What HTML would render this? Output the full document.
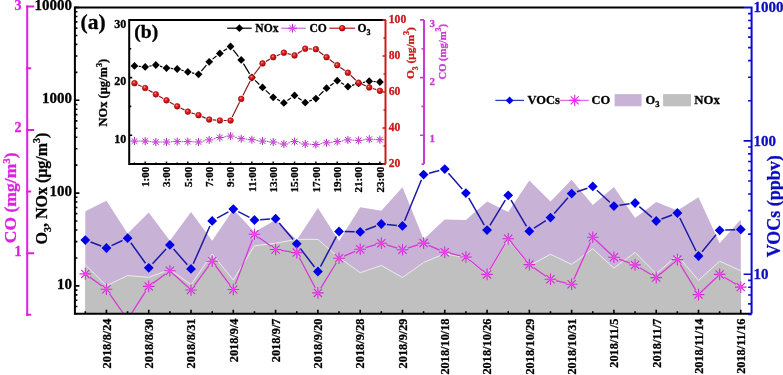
<!DOCTYPE html>
<html><head><meta charset="utf-8"><style>html,body{margin:0;padding:0;background:#fff;width:783px;height:375px;overflow:hidden}svg{display:block;will-change:transform}</style></head><body>
<svg width="783" height="375" viewBox="0 0 783 375">
<rect width="783" height="375" fill="#fff"/>
<defs><radialGradient id="rg" cx="0.4" cy="0.35" r="0.65"><stop offset="0" stop-color="#ff9a9a"/><stop offset="0.35" stop-color="#e82222"/><stop offset="1" stop-color="#b00808"/></radialGradient><clipPath id="mc"><rect x="75" y="7" width="677" height="306.8"/></clipPath></defs>
<polygon points="85.30,313.8 85.30,211.30 106.44,200.70 127.59,233.60 148.74,212.50 169.88,240.80 191.02,212.00 212.17,240.80 233.31,209.60 254.46,232.00 275.61,220.00 296.75,240.00 317.89,208.00 339.04,241.00 360.19,207.20 381.33,210.80 402.48,187.30 423.62,239.20 444.76,219.50 465.91,220.00 487.06,201.60 508.20,212.00 529.35,180.40 550.49,201.50 571.63,179.70 592.78,205.10 613.92,186.90 635.07,218.00 656.21,202.00 677.36,210.50 698.50,197.30 719.65,243.20 740.79,219.40 740.79,313.8" fill="#c8b2d6"/>
<polygon points="85.30,313.8 85.30,264.80 106.44,285.70 127.59,275.60 148.74,277.30 169.88,269.60 191.02,284.70 212.17,254.00 233.31,280.00 254.46,245.80 275.61,243.20 296.75,239.30 317.89,239.40 339.04,257.60 360.19,272.70 381.33,265.50 402.48,277.50 423.62,262.50 444.76,253.60 465.91,258.00 487.06,275.00 508.20,240.00 529.35,265.60 550.49,254.30 571.63,264.40 592.78,248.80 613.92,268.00 635.07,252.40 656.21,273.70 677.36,255.30 698.50,280.40 719.65,261.20 740.79,270.80 740.79,313.8" fill="#c0c0c0"/>
<polyline points="85.30,264.80 106.44,285.70 127.59,275.60 148.74,277.30 169.88,269.60 191.02,284.70 212.17,254.00 233.31,280.00 254.46,245.80 275.61,243.20 296.75,239.30 317.89,239.40 339.04,257.60 360.19,272.70 381.33,265.50 402.48,277.50 423.62,262.50 444.76,253.60 465.91,258.00 487.06,275.00 508.20,240.00 529.35,265.60 550.49,254.30 571.63,264.40 592.78,248.80 613.92,268.00 635.07,252.40 656.21,273.70 677.36,255.30 698.50,280.40 719.65,261.20 740.79,270.80" fill="none" stroke="#ececec" stroke-width="1.0"/>
<g clip-path="url(#mc)">
<path d="M90.55,242.06L101.20,246.04M111.53,245.65L122.51,240.55M130.85,242.76L145.48,263.24M152.53,263.69L166.08,249.01M173.58,249.10L187.32,264.70M193.28,263.78L209.91,226.02M217.06,218.17L228.42,211.83M238.29,211.67L249.48,217.43M260.05,219.66L270.02,219.04M279.21,222.98L293.14,239.52M300.15,248.25L314.50,267.05M320.51,266.55L336.42,236.45M344.64,231.61L354.59,231.79M365.43,229.94L376.08,225.96M386.91,224.50L396.90,225.40M404.61,220.72L421.49,179.78M429.04,173.19L439.35,170.51M448.47,173.30L462.21,188.90M468.69,197.96L484.28,225.24M489.96,225.31L505.29,200.09M511.04,200.13L526.50,226.37M534.05,228.17L545.78,220.63M554.19,213.40L567.93,197.80M576.94,191.79L587.48,188.21M596.88,190.22L609.83,202.28M619.47,205.29L629.53,203.81M639.33,206.63L651.95,217.37M661.45,219.02L672.12,214.98M679.83,218.03L696.03,250.97M702.06,251.68L716.09,234.62M725.24,230.06L735.20,229.64" stroke="#1a1aa8" stroke-width="1.5" fill="none"/>
<polygon points="85.30,235.20 90.20,240.10 85.30,245.00 80.40,240.10" fill="#0000e6"/>
<polygon points="106.44,243.10 111.34,248.00 106.44,252.90 101.54,248.00" fill="#0000e6"/>
<polygon points="127.59,233.30 132.49,238.20 127.59,243.10 122.69,238.20" fill="#0000e6"/>
<polygon points="148.74,262.90 153.64,267.80 148.74,272.70 143.84,267.80" fill="#0000e6"/>
<polygon points="169.88,240.00 174.78,244.90 169.88,249.80 164.98,244.90" fill="#0000e6"/>
<polygon points="191.02,264.00 195.92,268.90 191.02,273.80 186.12,268.90" fill="#0000e6"/>
<polygon points="212.17,216.00 217.07,220.90 212.17,225.80 207.27,220.90" fill="#0000e6"/>
<polygon points="233.31,204.20 238.22,209.10 233.31,214.00 228.41,209.10" fill="#0000e6"/>
<polygon points="254.46,215.10 259.36,220.00 254.46,224.90 249.56,220.00" fill="#0000e6"/>
<polygon points="275.61,213.80 280.50,218.70 275.61,223.60 270.71,218.70" fill="#0000e6"/>
<polygon points="296.75,238.90 301.65,243.80 296.75,248.70 291.85,243.80" fill="#0000e6"/>
<polygon points="317.89,266.60 322.79,271.50 317.89,276.40 313.00,271.50" fill="#0000e6"/>
<polygon points="339.04,226.60 343.94,231.50 339.04,236.40 334.14,231.50" fill="#0000e6"/>
<polygon points="360.19,227.00 365.08,231.90 360.19,236.80 355.29,231.90" fill="#0000e6"/>
<polygon points="381.33,219.10 386.23,224.00 381.33,228.90 376.43,224.00" fill="#0000e6"/>
<polygon points="402.48,221.00 407.38,225.90 402.48,230.80 397.58,225.90" fill="#0000e6"/>
<polygon points="423.62,169.70 428.52,174.60 423.62,179.50 418.72,174.60" fill="#0000e6"/>
<polygon points="444.76,164.20 449.66,169.10 444.76,174.00 439.87,169.10" fill="#0000e6"/>
<polygon points="465.91,188.20 470.81,193.10 465.91,198.00 461.01,193.10" fill="#0000e6"/>
<polygon points="487.06,225.20 491.95,230.10 487.06,235.00 482.16,230.10" fill="#0000e6"/>
<polygon points="508.20,190.40 513.10,195.30 508.20,200.20 503.30,195.30" fill="#0000e6"/>
<polygon points="529.35,226.30 534.25,231.20 529.35,236.10 524.45,231.20" fill="#0000e6"/>
<polygon points="550.49,212.70 555.39,217.60 550.49,222.50 545.59,217.60" fill="#0000e6"/>
<polygon points="571.63,188.70 576.53,193.60 571.63,198.50 566.74,193.60" fill="#0000e6"/>
<polygon points="592.78,181.50 597.68,186.40 592.78,191.30 587.88,186.40" fill="#0000e6"/>
<polygon points="613.92,201.20 618.82,206.10 613.92,211.00 609.02,206.10" fill="#0000e6"/>
<polygon points="635.07,198.10 639.97,203.00 635.07,207.90 630.17,203.00" fill="#0000e6"/>
<polygon points="656.21,216.10 661.11,221.00 656.21,225.90 651.31,221.00" fill="#0000e6"/>
<polygon points="677.36,208.10 682.26,213.00 677.36,217.90 672.46,213.00" fill="#0000e6"/>
<polygon points="698.50,251.10 703.40,256.00 698.50,260.90 693.61,256.00" fill="#0000e6"/>
<polygon points="719.65,225.40 724.55,230.30 719.65,235.20 714.75,230.30" fill="#0000e6"/>
<polygon points="740.79,224.50 745.69,229.40 740.79,234.30 735.89,229.40" fill="#0000e6"/>
<path d="M89.75,277.14L102.00,286.06M109.60,293.81L124.44,314.99M130.55,314.87L145.77,291.03M153.16,283.13L165.45,274.07M173.95,274.50L186.95,286.30M194.28,285.57L208.91,265.63M215.46,265.61L230.02,285.09M235.28,284.36L252.49,239.44M258.93,237.51L271.14,246.29M281.05,250.30L291.31,251.80M299.31,257.47L315.34,288.03M320.76,288.21L336.17,262.99M344.09,256.13L355.13,251.37M365.48,247.70L376.04,244.70M386.59,244.82L397.22,248.08M407.73,248.06L418.37,244.74M428.66,245.29L439.72,250.11M450.13,253.49L460.54,255.81M470.16,260.49L482.81,270.91M489.86,269.67L505.39,243.53M511.69,243.05L525.86,260.35M533.86,267.74L545.97,276.16M555.84,280.57L566.28,283.03M573.89,279.28L590.52,242.32M596.79,241.07L609.92,253.43M619.09,259.08L629.90,263.02M639.78,267.73L651.50,274.77M660.40,274.03L673.17,263.17M680.20,264.31L695.66,289.89M702.48,290.80L715.67,278.20M724.36,277.23L736.08,284.27" stroke="#d838d8" stroke-width="1.3" fill="none"/>
<path d="M79.50,273.90L91.10,273.90M81.20,269.80L89.40,278.00M85.30,268.10L85.30,279.70M89.40,269.80L81.20,278.00" stroke="#d02cd0" stroke-width="1.1" fill="none"/>
<circle cx="85.30" cy="273.90" r="1.8" fill="#ff38ff"/>
<path d="M100.64,289.30L112.24,289.30M102.34,285.20L110.55,293.40M106.44,283.50L106.44,295.10M110.55,285.20L102.34,293.40" stroke="#d02cd0" stroke-width="1.1" fill="none"/>
<circle cx="106.44" cy="289.30" r="1.8" fill="#ff38ff"/>
<path d="M121.79,319.50L133.39,319.50M123.49,315.40L131.69,323.60M127.59,313.70L127.59,325.30M131.69,315.40L123.49,323.60" stroke="#d02cd0" stroke-width="1.1" fill="none"/>
<circle cx="127.59" cy="319.50" r="1.8" fill="#ff38ff"/>
<path d="M142.94,286.40L154.54,286.40M144.63,282.30L152.84,290.50M148.74,280.60L148.74,292.20M152.84,282.30L144.63,290.50" stroke="#d02cd0" stroke-width="1.1" fill="none"/>
<circle cx="148.74" cy="286.40" r="1.8" fill="#ff38ff"/>
<path d="M164.08,270.80L175.68,270.80M165.78,266.70L173.98,274.90M169.88,265.00L169.88,276.60M173.98,266.70L165.78,274.90" stroke="#d02cd0" stroke-width="1.1" fill="none"/>
<circle cx="169.88" cy="270.80" r="1.8" fill="#ff38ff"/>
<path d="M185.22,290.00L196.82,290.00M186.92,285.90L195.13,294.10M191.02,284.20L191.02,295.80M195.13,285.90L186.92,294.10" stroke="#d02cd0" stroke-width="1.1" fill="none"/>
<circle cx="191.02" cy="290.00" r="1.8" fill="#ff38ff"/>
<path d="M206.37,261.20L217.97,261.20M208.07,257.10L216.27,265.30M212.17,255.40L212.17,267.00M216.27,257.10L208.07,265.30" stroke="#d02cd0" stroke-width="1.1" fill="none"/>
<circle cx="212.17" cy="261.20" r="1.8" fill="#ff38ff"/>
<path d="M227.51,289.50L239.12,289.50M229.21,285.40L237.42,293.60M233.31,283.70L233.31,295.30M237.42,285.40L229.21,293.60" stroke="#d02cd0" stroke-width="1.1" fill="none"/>
<circle cx="233.31" cy="289.50" r="1.8" fill="#ff38ff"/>
<path d="M248.66,234.30L260.26,234.30M250.36,230.20L258.56,238.40M254.46,228.50L254.46,240.10M258.56,230.20L250.36,238.40" stroke="#d02cd0" stroke-width="1.1" fill="none"/>
<circle cx="254.46" cy="234.30" r="1.8" fill="#ff38ff"/>
<path d="M269.81,249.50L281.41,249.50M271.50,245.40L279.71,253.60M275.61,243.70L275.61,255.30M279.71,245.40L271.50,253.60" stroke="#d02cd0" stroke-width="1.1" fill="none"/>
<circle cx="275.61" cy="249.50" r="1.8" fill="#ff38ff"/>
<path d="M290.95,252.60L302.55,252.60M292.65,248.50L300.85,256.70M296.75,246.80L296.75,258.40M300.85,248.50L292.65,256.70" stroke="#d02cd0" stroke-width="1.1" fill="none"/>
<circle cx="296.75" cy="252.60" r="1.8" fill="#ff38ff"/>
<path d="M312.09,292.90L323.69,292.90M313.79,288.80L322.00,297.00M317.89,287.10L317.89,298.70M322.00,288.80L313.79,297.00" stroke="#d02cd0" stroke-width="1.1" fill="none"/>
<circle cx="317.89" cy="292.90" r="1.8" fill="#ff38ff"/>
<path d="M333.24,258.30L344.84,258.30M334.94,254.20L343.14,262.40M339.04,252.50L339.04,264.10M343.14,254.20L334.94,262.40" stroke="#d02cd0" stroke-width="1.1" fill="none"/>
<circle cx="339.04" cy="258.30" r="1.8" fill="#ff38ff"/>
<path d="M354.38,249.20L365.99,249.20M356.08,245.10L364.29,253.30M360.19,243.40L360.19,255.00M364.29,245.10L356.08,253.30" stroke="#d02cd0" stroke-width="1.1" fill="none"/>
<circle cx="360.19" cy="249.20" r="1.8" fill="#ff38ff"/>
<path d="M375.53,243.20L387.13,243.20M377.23,239.10L385.43,247.30M381.33,237.40L381.33,249.00M385.43,239.10L377.23,247.30" stroke="#d02cd0" stroke-width="1.1" fill="none"/>
<circle cx="381.33" cy="243.20" r="1.8" fill="#ff38ff"/>
<path d="M396.68,249.70L408.28,249.70M398.37,245.60L406.58,253.80M402.48,243.90L402.48,255.50M406.58,245.60L398.37,253.80" stroke="#d02cd0" stroke-width="1.1" fill="none"/>
<circle cx="402.48" cy="249.70" r="1.8" fill="#ff38ff"/>
<path d="M417.82,243.10L429.42,243.10M419.52,239.00L427.72,247.20M423.62,237.30L423.62,248.90M427.72,239.00L419.52,247.20" stroke="#d02cd0" stroke-width="1.1" fill="none"/>
<circle cx="423.62" cy="243.10" r="1.8" fill="#ff38ff"/>
<path d="M438.96,252.30L450.56,252.30M440.66,248.20L448.87,256.40M444.76,246.50L444.76,258.10M448.87,248.20L440.66,256.40" stroke="#d02cd0" stroke-width="1.1" fill="none"/>
<circle cx="444.76" cy="252.30" r="1.8" fill="#ff38ff"/>
<path d="M460.11,257.00L471.71,257.00M461.81,252.90L470.01,261.10M465.91,251.20L465.91,262.80M470.01,252.90L461.81,261.10" stroke="#d02cd0" stroke-width="1.1" fill="none"/>
<circle cx="465.91" cy="257.00" r="1.8" fill="#ff38ff"/>
<path d="M481.25,274.40L492.86,274.40M482.95,270.30L491.16,278.50M487.06,268.60L487.06,280.20M491.16,270.30L482.95,278.50" stroke="#d02cd0" stroke-width="1.1" fill="none"/>
<circle cx="487.06" cy="274.40" r="1.8" fill="#ff38ff"/>
<path d="M502.40,238.80L514.00,238.80M504.10,234.70L512.30,242.90M508.20,233.00L508.20,244.60M512.30,234.70L504.10,242.90" stroke="#d02cd0" stroke-width="1.1" fill="none"/>
<circle cx="508.20" cy="238.80" r="1.8" fill="#ff38ff"/>
<path d="M523.55,264.60L535.14,264.60M525.24,260.50L533.45,268.70M529.35,258.80L529.35,270.40M533.45,260.50L525.24,268.70" stroke="#d02cd0" stroke-width="1.1" fill="none"/>
<circle cx="529.35" cy="264.60" r="1.8" fill="#ff38ff"/>
<path d="M544.69,279.30L556.29,279.30M546.39,275.20L554.59,283.40M550.49,273.50L550.49,285.10M554.59,275.20L546.39,283.40" stroke="#d02cd0" stroke-width="1.1" fill="none"/>
<circle cx="550.49" cy="279.30" r="1.8" fill="#ff38ff"/>
<path d="M565.84,284.30L577.43,284.30M567.53,280.20L575.74,288.40M571.63,278.50L571.63,290.10M575.74,280.20L567.53,288.40" stroke="#d02cd0" stroke-width="1.1" fill="none"/>
<circle cx="571.63" cy="284.30" r="1.8" fill="#ff38ff"/>
<path d="M586.98,237.30L598.58,237.30M588.68,233.20L596.88,241.40M592.78,231.50L592.78,243.10M596.88,233.20L588.68,241.40" stroke="#d02cd0" stroke-width="1.1" fill="none"/>
<circle cx="592.78" cy="237.30" r="1.8" fill="#ff38ff"/>
<path d="M608.12,257.20L619.72,257.20M609.82,253.10L618.03,261.30M613.92,251.40L613.92,263.00M618.03,253.10L609.82,261.30" stroke="#d02cd0" stroke-width="1.1" fill="none"/>
<circle cx="613.92" cy="257.20" r="1.8" fill="#ff38ff"/>
<path d="M629.27,264.90L640.87,264.90M630.97,260.80L639.17,269.00M635.07,259.10L635.07,270.70M639.17,260.80L630.97,269.00" stroke="#d02cd0" stroke-width="1.1" fill="none"/>
<circle cx="635.07" cy="264.90" r="1.8" fill="#ff38ff"/>
<path d="M650.41,277.60L662.01,277.60M652.11,273.50L660.32,281.70M656.21,271.80L656.21,283.40M660.32,273.50L652.11,281.70" stroke="#d02cd0" stroke-width="1.1" fill="none"/>
<circle cx="656.21" cy="277.60" r="1.8" fill="#ff38ff"/>
<path d="M671.56,259.60L683.16,259.60M673.26,255.50L681.46,263.70M677.36,253.80L677.36,265.40M681.46,255.50L673.26,263.70" stroke="#d02cd0" stroke-width="1.1" fill="none"/>
<circle cx="677.36" cy="259.60" r="1.8" fill="#ff38ff"/>
<path d="M692.71,294.60L704.30,294.60M694.40,290.50L702.61,298.70M698.50,288.80L698.50,300.40M702.61,290.50L694.40,298.70" stroke="#d02cd0" stroke-width="1.1" fill="none"/>
<circle cx="698.50" cy="294.60" r="1.8" fill="#ff38ff"/>
<path d="M713.85,274.40L725.45,274.40M715.55,270.30L723.75,278.50M719.65,268.60L719.65,280.20M723.75,270.30L715.55,278.50" stroke="#d02cd0" stroke-width="1.1" fill="none"/>
<circle cx="719.65" cy="274.40" r="1.8" fill="#ff38ff"/>
<path d="M735.00,287.10L746.59,287.10M736.69,283.00L744.90,291.20M740.79,281.30L740.79,292.90M744.90,283.00L736.69,291.20" stroke="#d02cd0" stroke-width="1.1" fill="none"/>
<circle cx="740.79" cy="287.10" r="1.8" fill="#ff38ff"/>
</g>
<path d="M74.9,7.5H744V7.5" stroke="#000" stroke-width="2" fill="none"/>
<path d="M74.9,6.5V313.8H751.6" stroke="#000" stroke-width="2" fill="none"/>
<path d="M74.9,313.80h2.5M74.9,306.45h2.5M74.9,300.24h2.5M74.9,294.86h2.5M74.9,290.11h2.5M74.9,285.87h4.5M74.9,257.94h2.5M74.9,241.60h2.5M74.9,230.00h2.5M74.9,221.01h2.5M74.9,213.66h2.5M74.9,207.45h2.5M74.9,202.07h2.5M74.9,197.32h2.5M74.9,193.08h4.5M74.9,165.15h2.5M74.9,148.81h2.5M74.9,137.21h2.5M74.9,128.22h2.5M74.9,120.87h2.5M74.9,114.66h2.5M74.9,109.28h2.5M74.9,104.54h2.5M74.9,100.29h4.5M74.9,72.36h2.5M74.9,56.02h2.5M74.9,44.42h2.5M74.9,35.43h2.5M74.9,28.09h2.5M74.9,21.87h2.5M74.9,16.49h2.5M74.9,11.75h2.5M74.9,7.50h4.5" stroke="#000" stroke-width="1.6" fill="none"/>
<text x="72" y="10.40" font-family="Liberation Serif" font-weight="bold" font-size="15" text-anchor="end" fill="#000" stroke="#000" stroke-width="0.3">10000</text>
<text x="72" y="103.49" font-family="Liberation Serif" font-weight="bold" font-size="15" text-anchor="end" fill="#000" stroke="#000" stroke-width="0.3">1000</text>
<text x="72" y="196.28" font-family="Liberation Serif" font-weight="bold" font-size="15" text-anchor="end" fill="#000" stroke="#000" stroke-width="0.3">100</text>
<text x="72" y="289.07" font-family="Liberation Serif" font-weight="bold" font-size="15" text-anchor="end" fill="#000" stroke="#000" stroke-width="0.3">10</text>
<path d="M744,7.5H751.6V313.8" stroke="#0a0ad2" stroke-width="2" fill="none"/>
<path d="M751.6,314.46h-3.5M751.6,303.89h-3.5M751.6,294.96h-3.5M751.6,287.23h-3.5M751.6,280.40h-3.5M751.6,274.30h-8M751.6,234.14h-3.5M751.6,210.65h-3.5M751.6,193.99h-3.5M751.6,181.06h-3.5M751.6,170.49h-3.5M751.6,161.56h-3.5M751.6,153.83h-3.5M751.6,147.00h-3.5M751.6,140.90h-8M751.6,100.74h-3.5M751.6,77.25h-3.5M751.6,60.59h-3.5M751.6,47.66h-3.5M751.6,37.09h-3.5M751.6,28.16h-3.5M751.6,20.43h-3.5M751.6,13.60h-3.5" stroke="#0a0ad2" stroke-width="1.6" fill="none"/>
<text x="753.5" y="12.10" font-family="Liberation Serif" font-weight="bold" font-size="15" fill="#0c0cc0" stroke="#0c0cc0" stroke-width="0.3">1000</text>
<text x="753.5" y="145.50" font-family="Liberation Serif" font-weight="bold" font-size="15" fill="#0c0cc0" stroke="#0c0cc0" stroke-width="0.3">100</text>
<text x="753.5" y="278.90" font-family="Liberation Serif" font-weight="bold" font-size="15" fill="#0c0cc0" stroke="#0c0cc0" stroke-width="0.3">10</text>
<text transform="translate(780,257.3) rotate(-90)" font-family="Liberation Serif" font-weight="bold" font-size="18" fill="#0c0cc0" stroke="#0c0cc0" stroke-width="0.3">VOCs (ppbv)</text>
<path d="M85.30,313.8v-2.5M106.44,313.8v-4M127.59,313.8v-2.5M148.74,313.8v-4M169.88,313.8v-2.5M191.02,313.8v-4M212.17,313.8v-2.5M233.31,313.8v-4M254.46,313.8v-2.5M275.61,313.8v-4M296.75,313.8v-2.5M317.89,313.8v-4M339.04,313.8v-2.5M360.19,313.8v-4M381.33,313.8v-2.5M402.48,313.8v-4M423.62,313.8v-2.5M444.76,313.8v-4M465.91,313.8v-2.5M487.06,313.8v-4M508.20,313.8v-2.5M529.35,313.8v-4M550.49,313.8v-2.5M571.63,313.8v-4M592.78,313.8v-2.5M613.92,313.8v-4M635.07,313.8v-2.5M656.21,313.8v-4M677.36,313.8v-2.5M698.50,313.8v-4M719.65,313.8v-2.5M740.79,313.8v-4" stroke="#000" stroke-width="1.6" fill="none"/>
<text transform="translate(110.74,318.5) rotate(-90)" font-family="Liberation Serif" font-weight="bold" font-size="12.3" text-anchor="end" fill="#000" stroke="#000" stroke-width="0.3">2018/8/24</text>
<text transform="translate(153.04,318.5) rotate(-90)" font-family="Liberation Serif" font-weight="bold" font-size="12.3" text-anchor="end" fill="#000" stroke="#000" stroke-width="0.3">2018/8/30</text>
<text transform="translate(195.32,318.5) rotate(-90)" font-family="Liberation Serif" font-weight="bold" font-size="12.3" text-anchor="end" fill="#000" stroke="#000" stroke-width="0.3">2018/8/31</text>
<text transform="translate(237.62,318.5) rotate(-90)" font-family="Liberation Serif" font-weight="bold" font-size="12.3" text-anchor="end" fill="#000" stroke="#000" stroke-width="0.3">2018/9/4</text>
<text transform="translate(279.91,318.5) rotate(-90)" font-family="Liberation Serif" font-weight="bold" font-size="12.3" text-anchor="end" fill="#000" stroke="#000" stroke-width="0.3">2018/9/7</text>
<text transform="translate(322.19,318.5) rotate(-90)" font-family="Liberation Serif" font-weight="bold" font-size="12.3" text-anchor="end" fill="#000" stroke="#000" stroke-width="0.3">2018/9/20</text>
<text transform="translate(364.49,318.5) rotate(-90)" font-family="Liberation Serif" font-weight="bold" font-size="12.3" text-anchor="end" fill="#000" stroke="#000" stroke-width="0.3">2018/9/28</text>
<text transform="translate(406.78,318.5) rotate(-90)" font-family="Liberation Serif" font-weight="bold" font-size="12.3" text-anchor="end" fill="#000" stroke="#000" stroke-width="0.3">2018/9/29</text>
<text transform="translate(449.06,318.5) rotate(-90)" font-family="Liberation Serif" font-weight="bold" font-size="12.3" text-anchor="end" fill="#000" stroke="#000" stroke-width="0.3">2018/10/18</text>
<text transform="translate(491.36,318.5) rotate(-90)" font-family="Liberation Serif" font-weight="bold" font-size="12.3" text-anchor="end" fill="#000" stroke="#000" stroke-width="0.3">2018/10/26</text>
<text transform="translate(533.64,318.5) rotate(-90)" font-family="Liberation Serif" font-weight="bold" font-size="12.3" text-anchor="end" fill="#000" stroke="#000" stroke-width="0.3">2018/10/29</text>
<text transform="translate(575.93,318.5) rotate(-90)" font-family="Liberation Serif" font-weight="bold" font-size="12.3" text-anchor="end" fill="#000" stroke="#000" stroke-width="0.3">2018/10/31</text>
<text transform="translate(618.22,318.5) rotate(-90)" font-family="Liberation Serif" font-weight="bold" font-size="12.3" text-anchor="end" fill="#000" stroke="#000" stroke-width="0.3">2018/11/5</text>
<text transform="translate(660.51,318.5) rotate(-90)" font-family="Liberation Serif" font-weight="bold" font-size="12.3" text-anchor="end" fill="#000" stroke="#000" stroke-width="0.3">2018/11/7</text>
<text transform="translate(702.80,318.5) rotate(-90)" font-family="Liberation Serif" font-weight="bold" font-size="12.3" text-anchor="end" fill="#000" stroke="#000" stroke-width="0.3">2018/11/14</text>
<text transform="translate(745.09,318.5) rotate(-90)" font-family="Liberation Serif" font-weight="bold" font-size="12.3" text-anchor="end" fill="#000" stroke="#000" stroke-width="0.3">2018/11/16</text>
<path d="M27.2,5.60V315.85" stroke="#e020e0" stroke-width="2" fill="none"/>
<path d="M26.2,6.60h8M26.2,68.25h5M26.2,129.90h8M26.2,191.55h5M26.2,253.20h8M26.2,314.85h5" stroke="#e020e0" stroke-width="2" fill="none"/>
<text x="18" y="9.80" font-family="Liberation Serif" font-weight="bold" font-size="14" text-anchor="middle" fill="#e020e0" stroke="#e020e0" stroke-width="0.3">3</text>
<text x="18" y="132.20" font-family="Liberation Serif" font-weight="bold" font-size="14" text-anchor="middle" fill="#e020e0" stroke="#e020e0" stroke-width="0.3">2</text>
<text x="18" y="255.50" font-family="Liberation Serif" font-weight="bold" font-size="14" text-anchor="middle" fill="#e020e0" stroke="#e020e0" stroke-width="0.3">1</text>
<text transform="translate(16.4,243.3) rotate(-90)" font-family="Liberation Serif" font-weight="bold" font-size="17.6" fill="#e020e0" stroke="#e020e0" stroke-width="0.3">CO (mg/m<tspan dy="-6.5" font-size="11">3</tspan><tspan dy="6.5">)</tspan></text>
<text transform="translate(46.8,244.5) rotate(-90)" font-family="Liberation Serif" font-weight="bold" font-size="16" fill="#000" stroke="#000" stroke-width="0.3">O<tspan dy="4" font-size="10">3</tspan><tspan dy="-4">, NOx (μg/m</tspan><tspan dy="-6.5" font-size="10">3</tspan><tspan dy="6.5">)</tspan></text>
<text x="80.6" y="29.2" font-family="Liberation Serif" font-weight="bold" font-size="21.5" fill="#000" stroke="#000" stroke-width="0.3">(a)</text>
<path d="M495.3,100.4H524" stroke="#3040b0" stroke-width="1.3"/>
<polygon points="509.6,96.5 513.5,100.4 509.6,104.30000000000001 505.70000000000005,100.4" fill="#0000e6"/>
<text x="527.5" y="104.3" font-family="Liberation Serif" font-weight="bold" font-size="12.5" fill="#000" stroke="#000" stroke-width="0.3">VOCs</text>
<path d="M559.7,100.4H588.8" stroke="#e070e0" stroke-width="1.3"/>
<path d="M569.10,100.40L580.30,100.40M570.74,96.44L578.66,104.36M574.70,94.80L574.70,106.00M578.66,96.44L570.74,104.36" stroke="#e62ee6" stroke-width="1.2" fill="none"/>
<text x="591.5" y="104.3" font-family="Liberation Serif" font-weight="bold" font-size="12.5" fill="#000" stroke="#000" stroke-width="0.3">CO</text>
<rect x="614.6" y="94.1" width="27" height="12.2" fill="#c8b2d6"/>
<text x="645.5" y="104.3" font-family="Liberation Serif" font-weight="bold" font-size="12.5" fill="#000" stroke="#000" stroke-width="0.3">O<tspan dy="3" font-size="8.5">3</tspan></text>
<rect x="663.1" y="94.1" width="27.9" height="12.2" fill="#c0c0c0"/>
<text x="694.3" y="104.3" font-family="Liberation Serif" font-weight="bold" font-size="12.8" fill="#000" stroke="#000" stroke-width="0.3">NOx</text>
<path d="M139.00,141.10L140.67,141.10M149.65,141.48L151.36,141.62M160.34,142.00L162.01,142.00M171.01,141.83L172.68,141.77M181.68,141.60L183.35,141.60M192.35,141.77L194.02,141.83M202.94,141.13L204.77,140.77M213.58,138.91L215.47,138.49M224.32,136.91L226.07,136.69M234.90,137.17L236.83,137.63M245.68,139.12L247.39,139.28M256.33,140.29L258.08,140.51M267.02,141.48L268.73,141.62M277.63,142.83L279.46,143.17M288.27,143.01L290.16,142.59M298.94,142.59L300.83,143.01M309.72,144.21L311.39,144.29M320.33,143.79L322.12,143.51M331.03,142.30L332.76,142.10M341.67,140.89L343.46,140.61M352.40,140.11L354.07,140.19M363.04,139.90L364.77,139.70M373.74,139.41L375.41,139.49" stroke="#b050c0" stroke-width="1.0" fill="none"/>
<path d="M130.50,141.10L138.50,141.10M131.67,138.27L137.33,143.93M134.50,137.10L134.50,145.10M137.33,138.27L131.67,143.93" stroke="#a830b4" stroke-width="1.0" fill="none"/>
<circle cx="134.50" cy="141.10" r="1.5" fill="#d848e0"/>
<path d="M141.17,141.10L149.17,141.10M142.34,138.27L148.00,143.93M145.17,137.10L145.17,145.10M148.00,138.27L142.34,143.93" stroke="#a830b4" stroke-width="1.0" fill="none"/>
<circle cx="145.17" cy="141.10" r="1.5" fill="#d848e0"/>
<path d="M151.84,142.00L159.84,142.00M153.01,139.17L158.67,144.83M155.84,138.00L155.84,146.00M158.67,139.17L153.01,144.83" stroke="#a830b4" stroke-width="1.0" fill="none"/>
<circle cx="155.84" cy="142.00" r="1.5" fill="#d848e0"/>
<path d="M162.51,142.00L170.51,142.00M163.68,139.17L169.34,144.83M166.51,138.00L166.51,146.00M169.34,139.17L163.68,144.83" stroke="#a830b4" stroke-width="1.0" fill="none"/>
<circle cx="166.51" cy="142.00" r="1.5" fill="#d848e0"/>
<path d="M173.18,141.60L181.18,141.60M174.35,138.77L180.01,144.43M177.18,137.60L177.18,145.60M180.01,138.77L174.35,144.43" stroke="#a830b4" stroke-width="1.0" fill="none"/>
<circle cx="177.18" cy="141.60" r="1.5" fill="#d848e0"/>
<path d="M183.85,141.60L191.85,141.60M185.02,138.77L190.68,144.43M187.85,137.60L187.85,145.60M190.68,138.77L185.02,144.43" stroke="#a830b4" stroke-width="1.0" fill="none"/>
<circle cx="187.85" cy="141.60" r="1.5" fill="#d848e0"/>
<path d="M194.52,142.00L202.52,142.00M195.69,139.17L201.35,144.83M198.52,138.00L198.52,146.00M201.35,139.17L195.69,144.83" stroke="#a830b4" stroke-width="1.0" fill="none"/>
<circle cx="198.52" cy="142.00" r="1.5" fill="#d848e0"/>
<path d="M205.19,139.90L213.19,139.90M206.36,137.07L212.02,142.73M209.19,135.90L209.19,143.90M212.02,137.07L206.36,142.73" stroke="#a830b4" stroke-width="1.0" fill="none"/>
<circle cx="209.19" cy="139.90" r="1.5" fill="#d848e0"/>
<path d="M215.86,137.50L223.86,137.50M217.03,134.67L222.69,140.33M219.86,133.50L219.86,141.50M222.69,134.67L217.03,140.33" stroke="#a830b4" stroke-width="1.0" fill="none"/>
<circle cx="219.86" cy="137.50" r="1.5" fill="#d848e0"/>
<path d="M226.53,136.10L234.53,136.10M227.70,133.27L233.36,138.93M230.53,132.10L230.53,140.10M233.36,133.27L227.70,138.93" stroke="#a830b4" stroke-width="1.0" fill="none"/>
<circle cx="230.53" cy="136.10" r="1.5" fill="#d848e0"/>
<path d="M237.20,138.70L245.20,138.70M238.37,135.87L244.03,141.53M241.20,134.70L241.20,142.70M244.03,135.87L238.37,141.53" stroke="#a830b4" stroke-width="1.0" fill="none"/>
<circle cx="241.20" cy="138.70" r="1.5" fill="#d848e0"/>
<path d="M247.87,139.70L255.87,139.70M249.04,136.87L254.70,142.53M251.87,135.70L251.87,143.70M254.70,136.87L249.04,142.53" stroke="#a830b4" stroke-width="1.0" fill="none"/>
<circle cx="251.87" cy="139.70" r="1.5" fill="#d848e0"/>
<path d="M258.54,141.10L266.54,141.10M259.71,138.27L265.37,143.93M262.54,137.10L262.54,145.10M265.37,138.27L259.71,143.93" stroke="#a830b4" stroke-width="1.0" fill="none"/>
<circle cx="262.54" cy="141.10" r="1.5" fill="#d848e0"/>
<path d="M269.21,142.00L277.21,142.00M270.38,139.17L276.04,144.83M273.21,138.00L273.21,146.00M276.04,139.17L270.38,144.83" stroke="#a830b4" stroke-width="1.0" fill="none"/>
<circle cx="273.21" cy="142.00" r="1.5" fill="#d848e0"/>
<path d="M279.88,144.00L287.88,144.00M281.05,141.17L286.71,146.83M283.88,140.00L283.88,148.00M286.71,141.17L281.05,146.83" stroke="#a830b4" stroke-width="1.0" fill="none"/>
<circle cx="283.88" cy="144.00" r="1.5" fill="#d848e0"/>
<path d="M290.55,141.60L298.55,141.60M291.72,138.77L297.38,144.43M294.55,137.60L294.55,145.60M297.38,138.77L291.72,144.43" stroke="#a830b4" stroke-width="1.0" fill="none"/>
<circle cx="294.55" cy="141.60" r="1.5" fill="#d848e0"/>
<path d="M301.22,144.00L309.22,144.00M302.39,141.17L308.05,146.83M305.22,140.00L305.22,148.00M308.05,141.17L302.39,146.83" stroke="#a830b4" stroke-width="1.0" fill="none"/>
<circle cx="305.22" cy="144.00" r="1.5" fill="#d848e0"/>
<path d="M311.89,144.50L319.89,144.50M313.06,141.67L318.72,147.33M315.89,140.50L315.89,148.50M318.72,141.67L313.06,147.33" stroke="#a830b4" stroke-width="1.0" fill="none"/>
<circle cx="315.89" cy="144.50" r="1.5" fill="#d848e0"/>
<path d="M322.56,142.80L330.56,142.80M323.73,139.97L329.39,145.63M326.56,138.80L326.56,146.80M329.39,139.97L323.73,145.63" stroke="#a830b4" stroke-width="1.0" fill="none"/>
<circle cx="326.56" cy="142.80" r="1.5" fill="#d848e0"/>
<path d="M333.23,141.60L341.23,141.60M334.40,138.77L340.06,144.43M337.23,137.60L337.23,145.60M340.06,138.77L334.40,144.43" stroke="#a830b4" stroke-width="1.0" fill="none"/>
<circle cx="337.23" cy="141.60" r="1.5" fill="#d848e0"/>
<path d="M343.90,139.90L351.90,139.90M345.07,137.07L350.73,142.73M347.90,135.90L347.90,143.90M350.73,137.07L345.07,142.73" stroke="#a830b4" stroke-width="1.0" fill="none"/>
<circle cx="347.90" cy="139.90" r="1.5" fill="#d848e0"/>
<path d="M354.57,140.40L362.57,140.40M355.74,137.57L361.40,143.23M358.57,136.40L358.57,144.40M361.40,137.57L355.74,143.23" stroke="#a830b4" stroke-width="1.0" fill="none"/>
<circle cx="358.57" cy="140.40" r="1.5" fill="#d848e0"/>
<path d="M365.24,139.20L373.24,139.20M366.41,136.37L372.07,142.03M369.24,135.20L369.24,143.20M372.07,136.37L366.41,142.03" stroke="#a830b4" stroke-width="1.0" fill="none"/>
<circle cx="369.24" cy="139.20" r="1.5" fill="#d848e0"/>
<path d="M375.91,139.70L383.91,139.70M377.08,136.87L382.74,142.53M379.91,135.70L379.91,143.70M382.74,136.87L377.08,142.53" stroke="#a830b4" stroke-width="1.0" fill="none"/>
<circle cx="379.91" cy="139.70" r="1.5" fill="#d848e0"/>
<path d="M138.78,66.30L140.89,66.50M149.40,66.15L151.61,65.75M159.97,66.20L162.38,66.90M170.79,68.46L172.90,68.64M181.33,70.13L183.70,70.77M192.05,72.84L194.32,73.36M201.31,71.03L206.40,65.07M212.57,59.14L216.48,56.06M223.47,51.07L226.92,48.83M233.21,49.86L238.52,56.54M243.43,63.58L249.64,73.82M255.02,80.42L259.39,84.48M265.69,90.32L270.06,94.38M277.02,99.30L280.07,100.90M287.40,100.43L291.03,97.87M298.11,97.81L301.66,100.19M309.25,101.09L311.86,100.11M318.97,95.60L323.48,91.20M330.08,85.73L333.71,83.17M340.99,82.78L344.14,84.52M352.02,85.36L354.45,84.64M362.78,82.53L365.03,82.07M373.53,81.52L375.62,81.68" stroke="#000" stroke-width="1.2" fill="none"/>
<polygon points="134.50,62.00 138.40,65.90 134.50,69.80 130.60,65.90" fill="#000"/>
<polygon points="145.17,63.00 149.07,66.90 145.17,70.80 141.27,66.90" fill="#000"/>
<polygon points="155.84,61.10 159.74,65.00 155.84,68.90 151.94,65.00" fill="#000"/>
<polygon points="166.51,64.20 170.41,68.10 166.51,72.00 162.61,68.10" fill="#000"/>
<polygon points="177.18,65.10 181.08,69.00 177.18,72.90 173.28,69.00" fill="#000"/>
<polygon points="187.85,68.00 191.75,71.90 187.85,75.80 183.95,71.90" fill="#000"/>
<polygon points="198.52,70.40 202.42,74.30 198.52,78.20 194.62,74.30" fill="#000"/>
<polygon points="209.19,57.90 213.09,61.80 209.19,65.70 205.29,61.80" fill="#000"/>
<polygon points="219.86,49.50 223.76,53.40 219.86,57.30 215.96,53.40" fill="#000"/>
<polygon points="230.53,42.60 234.43,46.50 230.53,50.40 226.63,46.50" fill="#000"/>
<polygon points="241.20,56.00 245.10,59.90 241.20,63.80 237.30,59.90" fill="#000"/>
<polygon points="251.87,73.60 255.77,77.50 251.87,81.40 247.97,77.50" fill="#000"/>
<polygon points="262.54,83.50 266.44,87.40 262.54,91.30 258.64,87.40" fill="#000"/>
<polygon points="273.21,93.40 277.11,97.30 273.21,101.20 269.31,97.30" fill="#000"/>
<polygon points="283.88,99.00 287.78,102.90 283.88,106.80 279.98,102.90" fill="#000"/>
<polygon points="294.55,91.50 298.45,95.40 294.55,99.30 290.65,95.40" fill="#000"/>
<polygon points="305.22,98.70 309.12,102.60 305.22,106.50 301.32,102.60" fill="#000"/>
<polygon points="315.89,94.70 319.79,98.60 315.89,102.50 311.99,98.60" fill="#000"/>
<polygon points="326.56,84.30 330.46,88.20 326.56,92.10 322.66,88.20" fill="#000"/>
<polygon points="337.23,76.80 341.13,80.70 337.23,84.60 333.33,80.70" fill="#000"/>
<polygon points="347.90,82.70 351.80,86.60 347.90,90.50 344.00,86.60" fill="#000"/>
<polygon points="358.57,79.50 362.47,83.40 358.57,87.30 354.67,83.40" fill="#000"/>
<polygon points="369.24,77.30 373.14,81.20 369.24,85.10 365.34,81.20" fill="#000"/>
<polygon points="379.91,78.10 383.81,82.00 379.91,85.90 376.01,82.00" fill="#000"/>
<path d="M137.97,84.76L141.70,86.44M148.44,89.93L152.57,92.37M159.15,96.16L163.20,98.44M169.82,102.16L173.87,104.44M180.58,107.99L184.45,109.91M191.45,112.81L194.92,113.99M202.04,116.62L205.67,118.08M212.97,119.85L216.08,120.15M223.66,120.50L226.73,120.50M232.21,117.09L239.52,102.31M242.90,95.50L250.17,80.90M254.16,74.47L260.25,66.43M265.83,61.49L269.92,59.11M276.71,55.72L280.38,54.18M287.56,53.63L290.87,54.47M297.77,53.38L302.00,50.72M309.02,48.88L312.09,49.02M318.93,51.48L323.52,54.92M329.60,59.48L334.19,62.92M340.34,67.39L344.79,70.51M350.66,75.31L355.81,80.19M362.06,84.30L365.75,85.90M372.86,88.55L376.29,89.65" stroke="#8a1a20" stroke-width="1.2" fill="none"/>
<circle cx="134.50" cy="83.20" r="2.85" fill="url(#rg)" stroke="#9a0a0a" stroke-width="0.6"/>
<circle cx="145.17" cy="88.00" r="2.85" fill="url(#rg)" stroke="#9a0a0a" stroke-width="0.6"/>
<circle cx="155.84" cy="94.30" r="2.85" fill="url(#rg)" stroke="#9a0a0a" stroke-width="0.6"/>
<circle cx="166.51" cy="100.30" r="2.85" fill="url(#rg)" stroke="#9a0a0a" stroke-width="0.6"/>
<circle cx="177.18" cy="106.30" r="2.85" fill="url(#rg)" stroke="#9a0a0a" stroke-width="0.6"/>
<circle cx="187.85" cy="111.60" r="2.85" fill="url(#rg)" stroke="#9a0a0a" stroke-width="0.6"/>
<circle cx="198.52" cy="115.20" r="2.85" fill="url(#rg)" stroke="#9a0a0a" stroke-width="0.6"/>
<circle cx="209.19" cy="119.50" r="2.85" fill="url(#rg)" stroke="#9a0a0a" stroke-width="0.6"/>
<circle cx="219.86" cy="120.50" r="2.85" fill="url(#rg)" stroke="#9a0a0a" stroke-width="0.6"/>
<circle cx="230.53" cy="120.50" r="2.85" fill="url(#rg)" stroke="#9a0a0a" stroke-width="0.6"/>
<circle cx="241.20" cy="98.90" r="2.85" fill="url(#rg)" stroke="#9a0a0a" stroke-width="0.6"/>
<circle cx="251.87" cy="77.50" r="2.85" fill="url(#rg)" stroke="#9a0a0a" stroke-width="0.6"/>
<circle cx="262.54" cy="63.40" r="2.85" fill="url(#rg)" stroke="#9a0a0a" stroke-width="0.6"/>
<circle cx="273.21" cy="57.20" r="2.85" fill="url(#rg)" stroke="#9a0a0a" stroke-width="0.6"/>
<circle cx="283.88" cy="52.70" r="2.85" fill="url(#rg)" stroke="#9a0a0a" stroke-width="0.6"/>
<circle cx="294.55" cy="55.40" r="2.85" fill="url(#rg)" stroke="#9a0a0a" stroke-width="0.6"/>
<circle cx="305.22" cy="48.70" r="2.85" fill="url(#rg)" stroke="#9a0a0a" stroke-width="0.6"/>
<circle cx="315.89" cy="49.20" r="2.85" fill="url(#rg)" stroke="#9a0a0a" stroke-width="0.6"/>
<circle cx="326.56" cy="57.20" r="2.85" fill="url(#rg)" stroke="#9a0a0a" stroke-width="0.6"/>
<circle cx="337.23" cy="65.20" r="2.85" fill="url(#rg)" stroke="#9a0a0a" stroke-width="0.6"/>
<circle cx="347.90" cy="72.70" r="2.85" fill="url(#rg)" stroke="#9a0a0a" stroke-width="0.6"/>
<circle cx="358.57" cy="82.80" r="2.85" fill="url(#rg)" stroke="#9a0a0a" stroke-width="0.6"/>
<circle cx="369.24" cy="87.40" r="2.85" fill="url(#rg)" stroke="#9a0a0a" stroke-width="0.6"/>
<circle cx="379.91" cy="90.80" r="2.85" fill="url(#rg)" stroke="#9a0a0a" stroke-width="0.6"/>
<path d="M385.5,19.9H129.2V164.1H385.5" stroke="#000" stroke-width="2" fill="none"/>
<path d="M129.2,19.90h3M129.2,48.74h2M129.2,77.58h3M129.2,106.42h2M129.2,135.26h3M129.2,164.10h2" stroke="#000" stroke-width="1.6" fill="none"/>
<text x="126.3" y="27.80" font-family="Liberation Serif" font-weight="bold" font-size="12" text-anchor="end" fill="#000" stroke="#000" stroke-width="0.3">30</text>
<text x="126.3" y="85.48" font-family="Liberation Serif" font-weight="bold" font-size="12" text-anchor="end" fill="#000" stroke="#000" stroke-width="0.3">20</text>
<text x="126.3" y="143.16" font-family="Liberation Serif" font-weight="bold" font-size="12" text-anchor="end" fill="#000" stroke="#000" stroke-width="0.3">10</text>
<text transform="translate(107.3,126.6) rotate(-90)" font-family="Liberation Serif" font-weight="bold" font-size="12.5" fill="#000" stroke="#000" stroke-width="0.3">NOx (μg/m<tspan dy="-5" font-size="8">3</tspan><tspan dy="5">)</tspan></text>
<text x="134.3" y="38.4" font-family="Liberation Serif" font-weight="bold" font-size="19.6" fill="#000" stroke="#000" stroke-width="0.3">(b)</text>
<path d="M134.50,164.1v-1.5M145.17,164.1v-2.5M155.84,164.1v-1.5M166.51,164.1v-2.5M177.18,164.1v-1.5M187.85,164.1v-2.5M198.52,164.1v-1.5M209.19,164.1v-2.5M219.86,164.1v-1.5M230.53,164.1v-2.5M241.20,164.1v-1.5M251.87,164.1v-2.5M262.54,164.1v-1.5M273.21,164.1v-2.5M283.88,164.1v-1.5M294.55,164.1v-2.5M305.22,164.1v-1.5M315.89,164.1v-2.5M326.56,164.1v-1.5M337.23,164.1v-2.5M347.90,164.1v-1.5M358.57,164.1v-2.5M369.24,164.1v-1.5M379.91,164.1v-2.5" stroke="#000" stroke-width="1.4" fill="none"/>
<text transform="translate(148.97,166.6) rotate(-90)" font-family="Liberation Serif" font-weight="bold" font-size="11.1" text-anchor="end" fill="#000" stroke="#000" stroke-width="0.3">1:00</text>
<text transform="translate(170.31,166.6) rotate(-90)" font-family="Liberation Serif" font-weight="bold" font-size="11.1" text-anchor="end" fill="#000" stroke="#000" stroke-width="0.3">3:00</text>
<text transform="translate(191.65,166.6) rotate(-90)" font-family="Liberation Serif" font-weight="bold" font-size="11.1" text-anchor="end" fill="#000" stroke="#000" stroke-width="0.3">5:00</text>
<text transform="translate(212.99,166.6) rotate(-90)" font-family="Liberation Serif" font-weight="bold" font-size="11.1" text-anchor="end" fill="#000" stroke="#000" stroke-width="0.3">7:00</text>
<text transform="translate(234.33,166.6) rotate(-90)" font-family="Liberation Serif" font-weight="bold" font-size="11.1" text-anchor="end" fill="#000" stroke="#000" stroke-width="0.3">9:00</text>
<text transform="translate(255.67,166.6) rotate(-90)" font-family="Liberation Serif" font-weight="bold" font-size="11.1" text-anchor="end" fill="#000" stroke="#000" stroke-width="0.3">11:00</text>
<text transform="translate(277.01,166.6) rotate(-90)" font-family="Liberation Serif" font-weight="bold" font-size="11.1" text-anchor="end" fill="#000" stroke="#000" stroke-width="0.3">13:00</text>
<text transform="translate(298.35,166.6) rotate(-90)" font-family="Liberation Serif" font-weight="bold" font-size="11.1" text-anchor="end" fill="#000" stroke="#000" stroke-width="0.3">15:00</text>
<text transform="translate(319.69,166.6) rotate(-90)" font-family="Liberation Serif" font-weight="bold" font-size="11.1" text-anchor="end" fill="#000" stroke="#000" stroke-width="0.3">17:00</text>
<text transform="translate(341.03,166.6) rotate(-90)" font-family="Liberation Serif" font-weight="bold" font-size="11.1" text-anchor="end" fill="#000" stroke="#000" stroke-width="0.3">19:00</text>
<text transform="translate(362.37,166.6) rotate(-90)" font-family="Liberation Serif" font-weight="bold" font-size="11.1" text-anchor="end" fill="#000" stroke="#000" stroke-width="0.3">21:00</text>
<text transform="translate(383.71,166.6) rotate(-90)" font-family="Liberation Serif" font-weight="bold" font-size="11.1" text-anchor="end" fill="#000" stroke="#000" stroke-width="0.3">23:00</text>
<path d="M385.5,19.9V164.1" stroke="#cc1a1a" stroke-width="2" fill="none"/>
<path d="M385.5,164.10h-3M385.5,146.07h-2M385.5,128.05h-3M385.5,110.02h-2M385.5,92.00h-3M385.5,73.97h-2M385.5,55.95h-3M385.5,37.92h-2M385.5,19.90h-3" stroke="#cc1a1a" stroke-width="1.6" fill="none"/>
<text x="388.8" y="22.60" font-family="Liberation Serif" font-weight="bold" font-size="11.6" fill="#cc1a1a" stroke="#cc1a1a" stroke-width="0.3">100</text>
<text x="388.8" y="58.65" font-family="Liberation Serif" font-weight="bold" font-size="11.6" fill="#cc1a1a" stroke="#cc1a1a" stroke-width="0.3">80</text>
<text x="388.8" y="94.70" font-family="Liberation Serif" font-weight="bold" font-size="11.6" fill="#cc1a1a" stroke="#cc1a1a" stroke-width="0.3">60</text>
<text x="388.8" y="130.75" font-family="Liberation Serif" font-weight="bold" font-size="11.6" fill="#cc1a1a" stroke="#cc1a1a" stroke-width="0.3">40</text>
<text x="388.8" y="166.80" font-family="Liberation Serif" font-weight="bold" font-size="11.6" fill="#cc1a1a" stroke="#cc1a1a" stroke-width="0.3">20</text>
<text transform="translate(414,79) rotate(-90)" font-family="Liberation Serif" font-weight="bold" font-size="11.4" fill="#cc1a1a" stroke="#cc1a1a" stroke-width="0.3">O<tspan dy="3.5" font-size="7.5">3</tspan><tspan dy="-3.5"> (μg/m</tspan><tspan dy="-5" font-size="8">3</tspan><tspan dy="5">)</tspan></text>
<path d="M424,19.9V164.1" stroke="#c83cd4" stroke-width="2" fill="none"/>
<path d="M424,19.90h-4M424,48.74h-2.5M424,77.58h-4M424,106.42h-2.5M424,135.26h-4M424,164.10h-2.5" stroke="#c83cd4" stroke-width="1.6" fill="none"/>
<text x="429.5" y="26.90" font-family="Liberation Serif" font-weight="bold" font-size="11" fill="#c83cd4" stroke="#c83cd4" stroke-width="0.3">3</text>
<text x="429.5" y="84.58" font-family="Liberation Serif" font-weight="bold" font-size="11" fill="#c83cd4" stroke="#c83cd4" stroke-width="0.3">2</text>
<text x="429.5" y="142.26" font-family="Liberation Serif" font-weight="bold" font-size="11" fill="#c83cd4" stroke="#c83cd4" stroke-width="0.3">1</text>
<text transform="translate(445.5,79.5) rotate(-90)" font-family="Liberation Serif" font-weight="bold" font-size="10.6" fill="#c83cd4" stroke="#c83cd4" stroke-width="0.3">CO (mg/m<tspan dy="-5" font-size="8">3</tspan><tspan dy="5">)</tspan></text>
<path d="M227.2,28.2H251.7" stroke="#000" stroke-width="1.2"/>
<polygon points="239.4,24.3 243.3,28.2 239.4,32.1 235.5,28.2" fill="#000"/>
<text x="255.3" y="32.3" font-family="Liberation Serif" font-weight="bold" font-size="11.6" fill="#000" stroke="#000" stroke-width="0.3">NOx</text>
<path d="M281.3,28.2H305.8" stroke="#c050d0" stroke-width="1.0"/>
<path d="M288.10,28.20L296.90,28.20M289.39,25.09L295.61,31.31M292.50,23.80L292.50,32.60M295.61,25.09L289.39,31.31" stroke="#b030c0" stroke-width="1.0" fill="none"/>
<circle cx="292.5" cy="28.2" r="1.3" fill="#e050e8"/>
<text x="309.5" y="32.3" font-family="Liberation Serif" font-weight="bold" font-size="11.6" fill="#000" stroke="#000" stroke-width="0.3">CO</text>
<path d="M329.3,28.2H354.9" stroke="#b01818" stroke-width="1.2"/>
<circle cx="342.2" cy="28.2" r="2.85" fill="url(#rg)" stroke="#9a0a0a" stroke-width="0.6"/>
<text x="357.5" y="32.3" font-family="Liberation Serif" font-weight="bold" font-size="11.6" fill="#000" stroke="#000" stroke-width="0.3">O<tspan dy="3" font-size="8">3</tspan></text>
</svg>
</body></html>
